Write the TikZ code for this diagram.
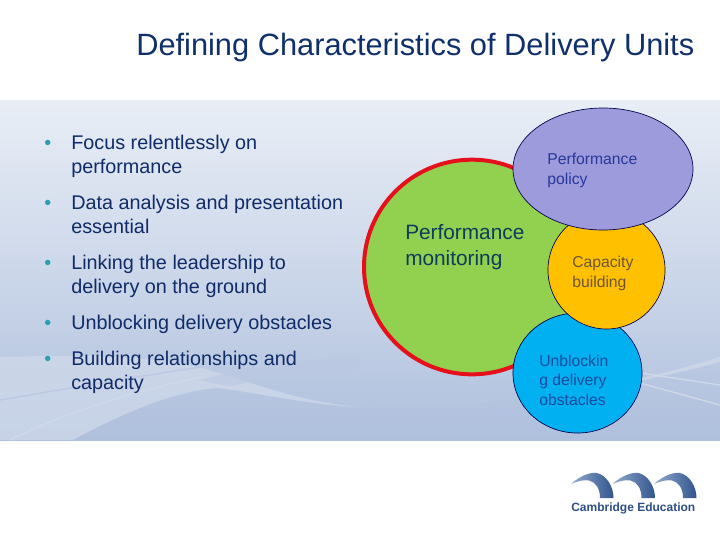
\documentclass[tikz,border=0pt]{standalone}
\usepackage{fontspec}
\setmainfont{Liberation Sans}
\usetikzlibrary{shapes.geometric}
\definecolor{bodyblue}{HTML}{0F2C68}
\definecolor{bullteal}{HTML}{2A9FB4}
\definecolor{titleblue}{HTML}{10306C}
\definecolor{bgtop}{HTML}{E9EEF6}
\definecolor{bgbot}{HTML}{AFC0DD}
\definecolor{wavelight}{HTML}{CFD9EA}
\definecolor{wavemid}{HTML}{BAC8E2}
\definecolor{logoblue}{HTML}{3A64A6}
\tikzset{
  x=0.75pt,y=-0.75pt,
  bodytext/.style={anchor=base west,align=left,inner sep=0pt,text=bodyblue,font=\fontsize{14.85}{18}\selectfont},
  bulletmark/.style={anchor=base west,inner sep=0pt,text=bullteal,font=\fontsize{14.85}{18}\selectfont},
  blob/.style={shape=ellipse,draw=black!70!blue,line width=0.5pt,inner sep=0pt},
  smalltext/.style={anchor=base west,align=left,inner sep=0pt,font=\fontsize{11.8}{14.3}\selectfont},
}
\begin{document}
\begin{tikzpicture}
\useasboundingbox (0,0) rectangle (720,540);
\fill[white] (0,0) rectangle (720,540);
% background panel
\shade[top color=bgtop,bottom color=bgbot,shading angle=0] (0,100) rectangle (720,440);
% waves
\fill[wavelight,opacity=.75] (0,357) .. controls (100,354) and (170,357) .. (215,372)
  .. controls (260,385) and (300,402) .. (360,407)
  .. controls (450,412) and (600,395) .. (720,357)
  -- (720,440) -- (0,440) -- cycle;
\shade[top color=wavemid,bottom color=bgbot] (73,440) .. controls (120,415) and (170,392) .. (217,388)
  .. controls (270,395) and (310,405) .. (360,407)
  .. controls (450,410) and (600,395) .. (720,362) -- (720,440) -- cycle;
\fill[wavemid,opacity=.6] (200,380) .. controls (235,370) and (300,358) .. (360,356)
  -- (360,368) .. controls (310,371) and (270,376) .. (232,386)
  .. controls (220,385) and (210,383) .. (200,380) -- cycle;
\draw[wavemid,line width=1pt] (0,400) .. controls (70,388) and (130,378) .. (200,367);
\draw[wavelight,line width=1pt] (10,440) .. controls (60,415) and (120,395) .. (200,377);
\draw[wavelight,line width=1pt] (640,373) -- (720,385);
\draw[wavelight,line width=1pt] (640,383) -- (720,405);
% title
\node[anchor=base west,inner sep=0pt,text=titleblue,font=\fontsize{23.1}{28}\selectfont] (title) at (136,55) {Defining Characteristics of Delivery Units};
% bullets
\node[bulletmark] (b1) at (44,149) {•};
\node[bodytext] (t1) at (71,173) {Focus relentlessly on\\performance};
\node[bulletmark] (b2) at (44,209) {•};
\node[bodytext] (t2) at (71,233) {Data analysis and presentation\\essential};
\node[bulletmark] (b3) at (44,269) {•};
\node[bodytext] (t3) at (71,293) {Linking the leadership to\\delivery on the ground};
\node[bulletmark] (b4) at (44,329) {•};
\node[bodytext] (t4) at (71,329) {Unblocking delivery obstacles};
\node[bulletmark] (b5) at (44,365) {•};
\node[bodytext] (t5) at (71,389) {Building relationships and\\capacity};
% circles
\node[shape=ellipse,draw={rgb,255:red,230;green,16;blue,28},line width=3pt,inner sep=0pt,minimum width=162pt,minimum height=161pt,fill={rgb,255:red,146;green,208;blue,80}] (mon) at (472,267) {};
\node[blob,fill={rgb,255:red,0;green,176;blue,240},minimum width=96.8pt,minimum height=90pt] (unb) at (577.5,373) {};
\node[blob,fill={rgb,255:red,255;green,192;blue,0},minimum width=87.8pt,minimum height=88.5pt] (cap) at (606.5,270) {};
\node[blob,fill={rgb,255:red,158;green,155;blue,220},minimum width=135pt,minimum height=91.5pt] (pol) at (603,169) {};
% circle labels
\node[anchor=base west,align=left,inner sep=0pt,text={rgb,255:red,14;green,60;blue,92},font=\fontsize{15.6}{18.8}\selectfont] (monl) at (405,265) {Performance\\monitoring};
\node[smalltext,text={rgb,255:red,40;green,55;blue,155}] (poll) at (547,184) {Performance\\policy};
\node[smalltext,text={rgb,255:red,110;green,85;blue,50}] (capl) at (572,287) {Capacity\\building};
\node[smalltext,text={rgb,255:red,25;green,75;blue,160}] (unbl) at (539,405) {Unblockin\\g delivery\\obstacles};
% logo
\foreach \dx in {0,41.5,83}{
  \begin{scope}[shift={(\dx,0)}]
    \shade[left color=logoblue!55!white,right color=logoblue!85!black]
      (571,484) .. controls (581,475) and (591,472) .. (597,473)
      .. controls (606,475) and (613.5,486) .. (613.5,498)
      -- (600,498) .. controls (600,489) and (596,482) .. (589,480.5)
      .. controls (584,479.5) and (578,481) .. (571,484) -- cycle;
  \end{scope}
}
\node[anchor=base west,inner sep=0pt,text=logoblue!80!black,font=\fontsize{9}{11}\selectfont\bfseries] (logo) at (571,511) {Cambridge Education};
\end{tikzpicture}
\end{document}
